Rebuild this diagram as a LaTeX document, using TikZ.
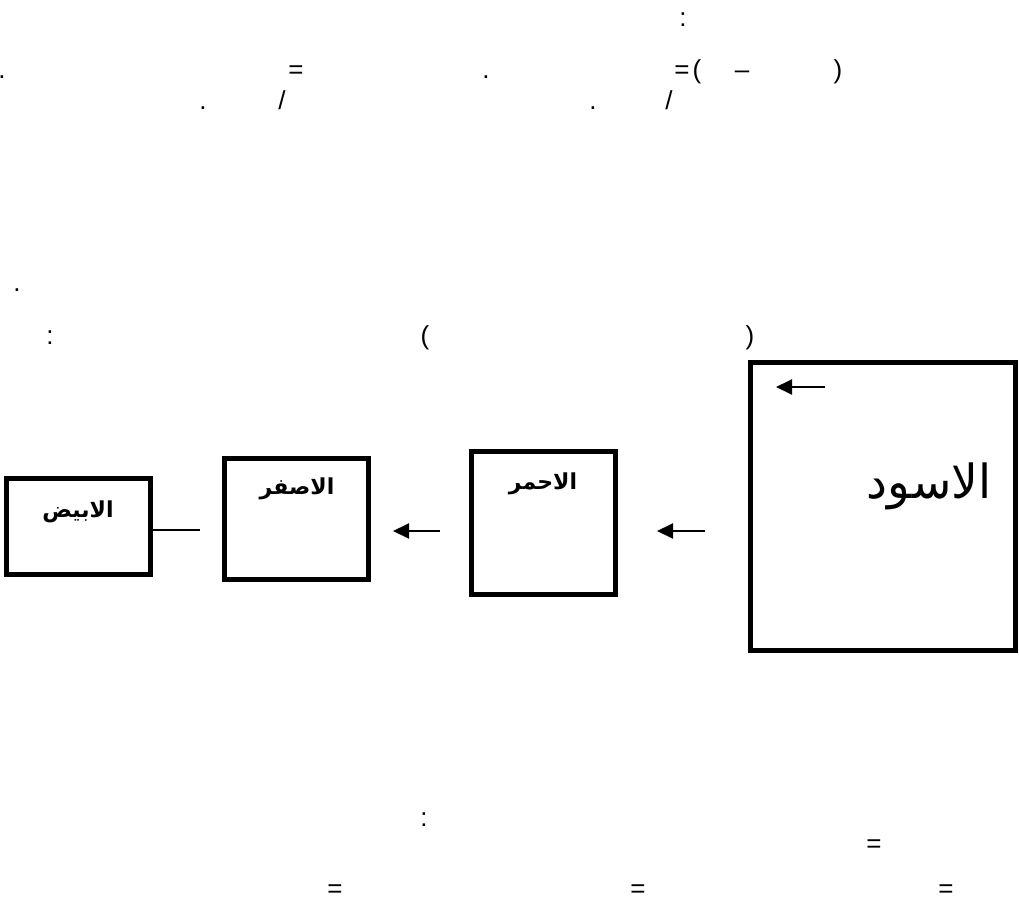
\documentclass[tikz,border=0pt]{standalone}
\usepackage{fontspec}
\setmainfont{Liberation Sans}
\newfontfamily\arabicfont[Script=Arabic]{DejaVu Sans}
\TeXXeTstate=1
\usetikzlibrary{arrows.meta}
\begin{document}
\begin{tikzpicture}[x=1pt,y=-1pt,
  box/.style={draw, line width=5pt, inner sep=0pt},
  punct/.style={inner sep=0pt, anchor=base, font=\fontsize{26}{30}\selectfont},
  lbl/.style={inner sep=0pt, font=\arabicfont\bfseries\fontsize{22}{26}\selectfont},
  biglbl/.style={inner sep=0pt, font=\arabicfont\fontsize{47}{52}\selectfont},
  arr/.style={line width=2pt, -{Triangle[length=16pt,width=15pt]}}]
\useasboundingbox (0,0) rectangle (1019,904);
% boxes
\node[box, minimum width=265pt, minimum height=288pt] (black) at (883,506.5) {};
\node[box, minimum width=144.5pt, minimum height=143.5pt] (red) at (543.25,522.75) {};
\node[box, minimum width=144pt, minimum height=121pt] (yellow) at (296,518.5) {};
\node[box, minimum width=144.5pt, minimum height=96.5pt] (white) at (78.25,526.25) {};
% labels
\node[biglbl] (lblack) at (929,486) {\beginR الاسود\endR};
\node[lbl] (lred) at (543,484) {\beginR الاحمر\endR};
\node[lbl] (lyellow) at (297,489) {\beginR الاصفر\endR};
\node[lbl] (lwhite) at (78,512) {\beginR الابيض\endR};
% arrows
\coordinate (a1s) at (825,387); \coordinate (a1e) at (776,387);
\coordinate (a2s) at (705,531); \coordinate (a2e) at (657,531);
\coordinate (a3s) at (440,531); \coordinate (a3e) at (393,531);
\coordinate (l1e) at (200,530);
\draw[arr] (a1s) -- (a1e);
\draw[arr] (a2s) -- (a2e);
\draw[arr] (a3s) -- (a3e);
\draw[line width=1.5pt] (white.east |- l1e) -- (l1e);
% punctuation
\node[punct] (p1) at (683,27) {:};
\node[punct] (p2) at (2,79) {.};
\node[punct] (p3) at (296,79) {=};
\node[punct] (p4) at (486,79) {.};
\node[punct] (p5) at (682,79) {=};
\node[punct] (p6) at (697,79) {(};
\node[punct] (p7) at (742,79) {–};
\node[punct] (p8) at (838,79) {)};
\node[punct] (p9) at (203,110) {.};
\node[punct] (p10) at (282,110) {/};
\node[punct] (p11) at (593,110) {.};
\node[punct] (p12) at (669,110) {/};
\node[punct] (p13) at (17,291) {.};
\node[punct] (p14) at (50,344) {:};
\node[punct] (p15) at (425,344) {(};
\node[punct] (p16) at (750,344) {)};
\node[punct] (p17) at (424,826) {:};
\node[punct] (p18) at (874,852) {=};
\node[punct] (p19) at (335,897) {=};
\node[punct] (p20) at (638,897) {=};
\node[punct] (p21) at (946,897) {=};
\end{tikzpicture}
\end{document}
